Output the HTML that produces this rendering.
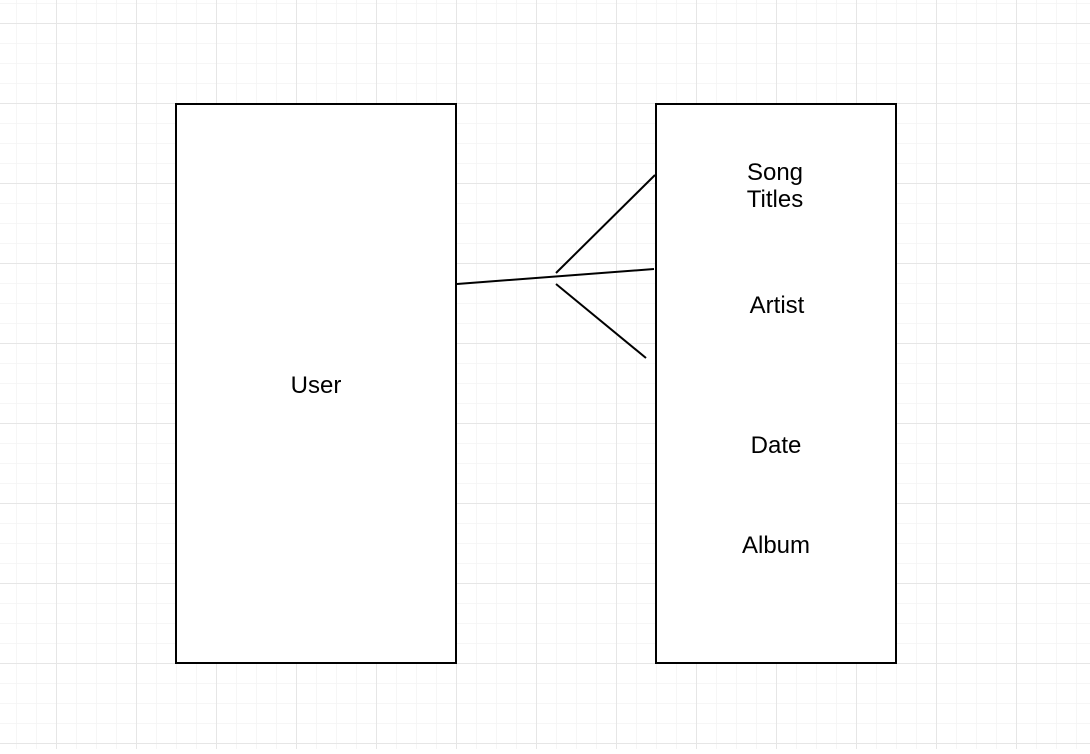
<!DOCTYPE html>
<html><head><style>
html,body{margin:0;padding:0;}
body{width:1090px;height:749px;overflow:hidden;background:#fff;}
</style></head><body>
<svg width="1090" height="749" xmlns="http://www.w3.org/2000/svg">
<defs>
<pattern id="minor" x="16" y="3" width="20" height="20" patternUnits="userSpaceOnUse">
<path d="M0 0H20M0 0V20" stroke="#f3f3f3" stroke-width="1.5" fill="none"/>
</pattern>
<pattern id="major" x="56" y="23" width="80" height="80" patternUnits="userSpaceOnUse">
<path d="M0 0H80M0 0V80" stroke="#e6e6e6" stroke-width="2" fill="none"/>
</pattern>
</defs>
<rect width="1090" height="749" fill="url(#minor)"/>
<rect width="1090" height="749" fill="url(#major)"/>
<rect x="176" y="104" width="280" height="559" fill="#fff" stroke="#000" stroke-width="2"/>
<rect x="656" y="104" width="240" height="559" fill="#fff" stroke="#000" stroke-width="2"/>
<g stroke="#000" stroke-width="2" fill="none">
<line x1="457" y1="284" x2="654" y2="269"/>
<line x1="556" y1="273" x2="655" y2="175"/>
<line x1="556" y1="284" x2="646" y2="358"/>
</g>
<g font-family="Liberation Sans, Arial, sans-serif" font-size="24" text-anchor="middle" fill="#000">
<text x="316" y="393">User</text>
<text x="775" y="180">Song</text>
<text x="775" y="207">Titles</text>
<text x="777" y="313">Artist</text>
<text x="776" y="453">Date</text>
<text x="776" y="553">Album</text>
</g>
</svg>
</body></html>
